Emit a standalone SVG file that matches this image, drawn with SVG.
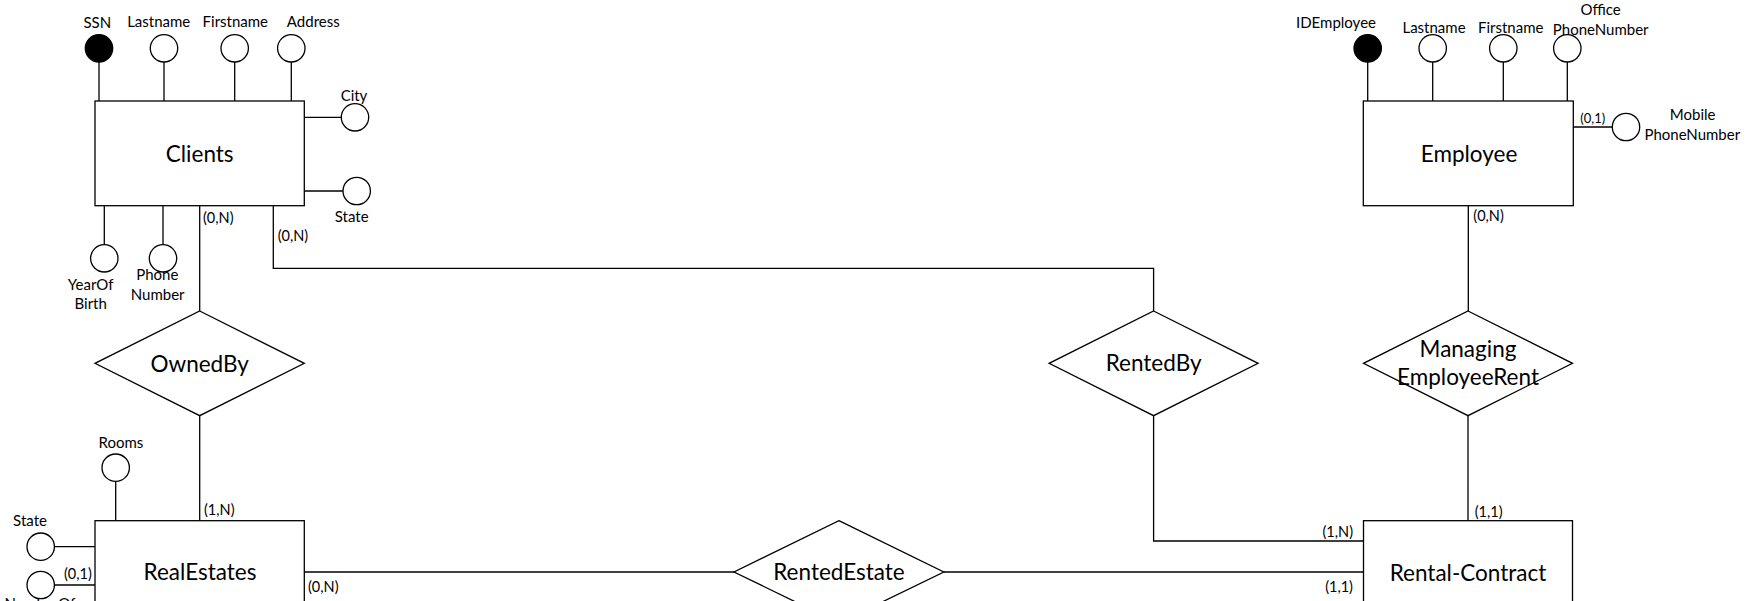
<svg xmlns="http://www.w3.org/2000/svg" width="1748" height="601" viewBox="0 0 1748 601">
<style>
.s{fill:none;stroke:#000;stroke-width:1.3}
.e{fill:#fff;stroke:#000;stroke-width:1.3}
.k{fill:#000;stroke:#000;stroke-width:1.3}
text{font-family:Lato,"Liberation Sans",sans-serif;fill:#000}
.l{font-size:15px;text-anchor:middle}
.c{font-size:14.5px}
.ce{font-size:14.5px;text-anchor:end}
.t{font-size:13px;text-anchor:middle}
.n{font-size:22.5px;text-anchor:middle}
</style>
<rect width="1748" height="601" fill="#fff"/>
<g id="connectors">
<line class="s" x1="199.7" y1="205.7" x2="199.7" y2="311"/>
<text class="c" x="203" y="223.3">(0,N)</text>
<line class="s" x1="199.7" y1="415.7" x2="199.7" y2="520.7"/>
<text class="c" x="204" y="515">(1,N)</text>
<polyline class="s" points="273.3,205.7 273.3,268.3 1153.6,268.3 1153.6,311"/>
<text class="c" x="277.7" y="241">(0,N)</text>
<polyline class="s" points="1153.6,415.7 1153.6,541 1363.5,541"/>
<text class="ce" x="1353" y="536.7">(1,N)</text>
<line class="s" x1="1468.3" y1="205.7" x2="1468.3" y2="311"/>
<text class="c" x="1473.3" y="220.7">(0,N)</text>
<line class="s" x1="1468" y1="415.7" x2="1468" y2="520.7"/>
<text class="c" x="1474.7" y="517.3">(1,1)</text>
<line class="s" x1="304.3" y1="572" x2="734" y2="572"/>
<text class="c" x="308" y="591.7">(0,N)</text>
<line class="s" x1="943.8" y1="572" x2="1363.5" y2="572"/>
<text class="ce" x="1353" y="591.7">(1,1)</text>
</g>
<g id="clients">
<line class="s" x1="99" y1="62" x2="99" y2="101"/>
<circle class="k" cx="99" cy="48.3" r="13.7"/>
<text class="l" x="97.3" y="28.3">SSN</text>
<line class="s" x1="164" y1="62" x2="164" y2="101"/>
<circle class="e" cx="164" cy="48.3" r="13.7"/>
<text class="l" x="158.7" y="27">Lastname</text>
<line class="s" x1="234.7" y1="62" x2="234.7" y2="101"/>
<circle class="e" cx="234.7" cy="48.3" r="13.7"/>
<text class="l" x="235.3" y="27">Firstname</text>
<line class="s" x1="291.3" y1="62" x2="291.3" y2="101"/>
<circle class="e" cx="291.3" cy="48.3" r="13.7"/>
<text class="l" x="313.3" y="27">Address</text>
<line class="s" x1="302" y1="117.3" x2="341.3" y2="117.3"/>
<circle class="e" cx="355" cy="117.3" r="13.7"/>
<text class="l" x="354" y="100.7">City</text>
<line class="s" x1="304" y1="191" x2="343" y2="191"/>
<circle class="e" cx="356.7" cy="191" r="13.7"/>
<text class="l" x="351.7" y="222.3">State</text>
<line class="s" x1="104.3" y1="205.7" x2="104.3" y2="244.6"/>
<circle class="e" cx="104.3" cy="258.3" r="13.7"/>
<text class="l" x="90.7" y="290">YearOf</text>
<text class="l" x="90.7" y="309.3">Birth</text>
<line class="s" x1="163" y1="205.7" x2="163" y2="244.6"/>
<circle class="e" cx="163" cy="258.3" r="13.7"/>
<text class="l" x="157.3" y="280">Phone</text>
<text class="l" x="157.7" y="300">Number</text>
<rect class="e" x="95" y="101" width="209.3" height="104.7"/>
<text class="n" x="199.7" y="161.7">Clients</text>
</g>
<g id="ownedby">
<polygon class="e" points="199.7,311 304.3,363.3 199.7,415.7 95,363.3"/>
<text class="n" x="199.7" y="371.7">OwnedBy</text>
</g>
<g id="realestates">
<line class="s" x1="115.7" y1="481.4" x2="115.7" y2="520.7"/>
<circle class="e" cx="115.7" cy="467.7" r="13.7"/>
<text class="l" x="121" y="447.7">Rooms</text>
<line class="s" x1="54.4" y1="546.7" x2="95" y2="546.7"/>
<circle class="e" cx="40.7" cy="546.7" r="13.7"/>
<text class="l" x="30" y="525.7">State</text>
<line class="s" x1="54.4" y1="585" x2="95" y2="585"/>
<circle class="e" cx="40.7" cy="585" r="13.7"/>
<text class="c" x="64" y="579.3">(0,1)</text>
<text class="l" x="40" y="609">NumberOf</text>
<rect class="e" x="95" y="520.7" width="209.3" height="120"/>
<text class="n" x="200" y="580">RealEstates</text>
</g>
<g id="rentedestate">
<polygon class="e" points="838.9,520.7 943.8,572 838.9,623 734,572"/>
<text class="n" x="839" y="580">RentedEstate</text>
</g>
<g id="rentedby">
<polygon class="e" points="1153.6,311 1258.1,363.3 1153.6,415.7 1049.1,363.3"/>
<text class="n" x="1153.6" y="370.7">RentedBy</text>
</g>
<g id="managing">
<polygon class="e" points="1468,311 1572.5,363.3 1468,415.7 1363.5,363.3"/>
<text class="n" x="1468" y="357.3">Managing</text>
<text class="n" x="1468" y="385">EmployeeRent</text>
</g>
<g id="rental-contract">
<rect class="e" x="1363.5" y="520.7" width="209" height="120"/>
<text class="n" x="1468" y="580.7">Rental-Contract</text>
</g>
<g id="employee">
<line class="s" x1="1367.7" y1="62" x2="1367.7" y2="101"/>
<circle class="k" cx="1367.7" cy="48.3" r="13.7"/>
<text class="l" x="1336" y="27.7">IDEmployee</text>
<line class="s" x1="1432.7" y1="62" x2="1432.7" y2="101"/>
<circle class="e" cx="1432.7" cy="48.3" r="13.7"/>
<text class="l" x="1434" y="32.7">Lastname</text>
<line class="s" x1="1503.3" y1="62" x2="1503.3" y2="101"/>
<circle class="e" cx="1503.3" cy="48.3" r="13.7"/>
<text class="l" x="1510.7" y="32.7">Firstname</text>
<line class="s" x1="1567.3" y1="62" x2="1567.3" y2="101"/>
<circle class="e" cx="1567.3" cy="48.3" r="13.7"/>
<text class="l" x="1600.7" y="15">Office</text>
<text class="l" x="1600.7" y="35">PhoneNumber</text>
<line class="s" x1="1573.3" y1="127" x2="1612.3" y2="127"/>
<circle class="e" cx="1626" cy="127" r="13.7"/>
<text class="t" x="1592.7" y="123.3">(0,1)</text>
<text class="l" x="1692.7" y="120">Mobile</text>
<text class="l" x="1692.3" y="140">PhoneNumber</text>
<rect class="e" x="1363.3" y="101" width="210" height="104.7"/>
<text class="n" x="1469" y="161.7">Employee</text>
</g>
</svg>
